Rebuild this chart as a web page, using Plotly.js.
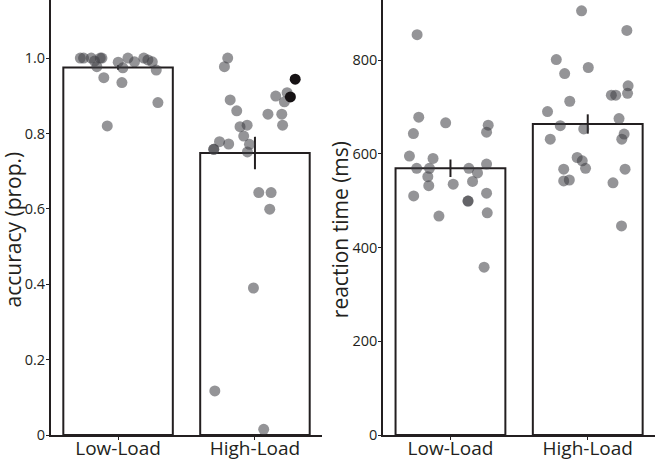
<!DOCTYPE html>
<html>
<head>
<meta charset="utf-8">
<script src="https://cdn.plot.ly/plotly-3.0.1.min.js"></script>
<style>html,body{margin:0;padding:0;background:#fff;}#chart{width:656px;height:461px;}</style>
</head>
<body>
<div id="chart"></div>
<script>
// Categories and tick labels
const categories = ["Low-Load", "High-Load"];
const accTickVals = [0, 0.2, 0.4, 0.6, 0.8, 1.0];
const accTickText = ["0", "0.2", "0.4", "0.6", "0.8", "1.0"];
const rtTickVals = [0, 200, 400, 600, 800];
const rtTickText = ["0", "200", "400", "600", "800"];
const accTitle = "accuracy (prop.)";
const rtTitle = "reaction time (ms)";

// Bar means and standard errors
const accMeans = [0.975, 0.748];
const accErrors = [0.006, 0.043];
const rtMeans = [569, 663.5];
const rtErrors = [18.5, 20.6];

// Individual participant points: horizontal jitter (category units) and values
const accLowJitter = [-0.276, -0.252, -0.196, -0.172, -0.130, -0.118, -0.155, -0.104, 0.001, 0.035, 0.028, 0.072, 0.120, 0.188, 0.218, 0.250, 0.279, 0.291, -0.079];
const accLowValues = [1.0, 1.0, 1.0, 0.992, 1.0, 1.0, 0.977, 0.948, 0.989, 0.974, 0.935, 1.0, 0.99, 1.0, 0.995, 0.99, 0.968, 0.882, 0.82];

const accHighJitter = [-0.199, -0.223, 0.235, 0.215, 0.152, -0.181, -0.133, 0.095, 0.196, 0.202, -0.109, -0.057, -0.082, -0.259, -0.192, -0.301, -0.301, -0.040, -0.055, 0.028, 0.118, 0.108, -0.011, -0.293, 0.064];
const accHighValues = [1.0, 0.977, 0.908, 0.884, 0.899, 0.889, 0.860, 0.851, 0.851, 0.822, 0.818, 0.822, 0.793, 0.778, 0.772, 0.758, 0.758, 0.771, 0.751, 0.643, 0.643, 0.599, 0.390, 0.117, 0.015];

// Highlighted (dark) points in the High-Load accuracy group
const accHighlightJitter = [0.294, 0.259];
const accHighlightValues = [0.944, 0.897];

const rtLowJitter = [-0.243, -0.231, -0.035, 0.275, 0.263, -0.270, -0.299, -0.127, -0.246, -0.153, -0.165, -0.158, -0.268, 0.020, 0.134, 0.197, 0.161, 0.263, 0.263, 0.128, 0.128, -0.084, 0.268, 0.245];
const rtLowValues = [854, 678, 666, 661, 646, 643, 595, 590, 569, 569, 551, 532, 510, 535, 569, 559, 541, 578, 516, 499, 499, 467, 474, 358];

const rtHighJitter = [-0.045, 0.285, -0.229, 0.004, -0.168, 0.294, 0.290, 0.172, 0.204, -0.131, -0.293, 0.228, -0.200, -0.029, -0.273, 0.265, 0.248, -0.077, -0.040, -0.016, -0.175, 0.272, -0.175, -0.134, 0.184, 0.246];
const rtHighValues = [905, 863, 801, 784, 771, 745, 729, 725, 725, 712, 690, 675, 660, 653, 631, 642, 631, 592, 585, 569, 567, 567, 542, 544, 538, 446];

const FONT = "Open Sans, Noto Sans, sans-serif";
const INK = "#231f20";
const PT = "rgba(60,60,65,0.55)";

function place(catIndex, jit) { return jit.map(j => catIndex + j); }

function barTrace(means, errs, xa, ya) {
  return {
    type: "bar", x: [0, 1], y: means, width: 0.8,
    xaxis: xa, yaxis: ya,
    marker: {color: "#ffffff", line: {color: INK, width: 2}},
    error_y: {type: "data", array: errs, visible: true, color: INK, thickness: 2, width: 0},
    hoverinfo: "skip", showlegend: false
  };
}
function ptTrace(x, y, xa, ya, color) {
  return {
    type: "scatter", mode: "markers", x: x, y: y, xaxis: xa, yaxis: ya,
    marker: {size: 11, color: color || PT, line: {width: 0}},
    hoverinfo: "skip", showlegend: false, cliponaxis: false
  };
}

const data = [
  barTrace(accMeans, accErrors, "x", "y"),
  barTrace(rtMeans, rtErrors, "x2", "y2"),
  ptTrace(place(0, accLowJitter), accLowValues, "x", "y"),
  ptTrace(place(1, accHighJitter), accHighValues, "x", "y"),
  ptTrace(place(1, accHighlightJitter), accHighlightValues, "x", "y", "rgba(22,18,20,1)"),
  ptTrace(place(0, rtLowJitter), rtLowValues, "x2", "y2"),
  ptTrace(place(1, rtHighJitter), rtHighValues, "x2", "y2")
];

function xAxis(domain, anchor) {
  return {
    domain: domain, anchor: anchor, range: [-0.49, 1.49],
    tickvals: [0, 1], ticktext: categories,
    showline: true, linecolor: INK, linewidth: 2, mirror: false,
    ticks: "outside", ticklen: 3, tickwidth: 1, tickcolor: INK,
    ticklabelstandoff: -8,
    showgrid: false, zeroline: false, fixedrange: true, automargin: false,
    tickfont: {family: FONT, size: 19, color: INK}
  };
}
function yAxis(anchor, range, tv, tt) {
  return {
    anchor: anchor, domain: [0, 1], range: range,
    tickvals: tv, ticktext: tt,
    showline: true, linecolor: INK, linewidth: 2,
    ticks: "outside", ticklen: 3, tickwidth: 1, tickcolor: INK,
    ticklabelstandoff: -2,
    showgrid: false, zeroline: false, fixedrange: true, automargin: false,
    tickfont: {family: FONT, size: 14.5, color: INK}
  };
}

const titleFont = {family: FONT, size: 21, color: INK};
const layout = {
  width: 656, height: 461,
  margin: {l: 51, r: 1, t: 0, b: 26, pad: 0},
  paper_bgcolor: "#ffffff", plot_bgcolor: "#ffffff",
  showlegend: false, bargap: 0.2,
  font: {family: FONT, color: INK},
  xaxis: xAxis([0, 0.4487], "y"),
  yaxis: yAxis("x", [0, 1.154], accTickVals, accTickText),
  xaxis2: xAxis([0.550, 1], "y2"),
  yaxis2: yAxis("x2", [0, 928], rtTickVals, rtTickText),
  annotations: [
    {text: accTitle, textangle: -90, xref: "paper", yref: "paper", x: 0, y: 0.4724,
     xanchor: "center", yanchor: "middle", xshift: -38, showarrow: false, font: titleFont},
    {text: rtTitle, textangle: -90, xref: "paper", yref: "paper", x: 0.550, y: 0.4713,
     xanchor: "center", yanchor: "middle", xshift: -43, showarrow: false, font: titleFont}
  ]
};

Plotly.newPlot("chart", data, layout, {displayModeBar: false, staticPlot: true});
</script>
</body>
</html>
